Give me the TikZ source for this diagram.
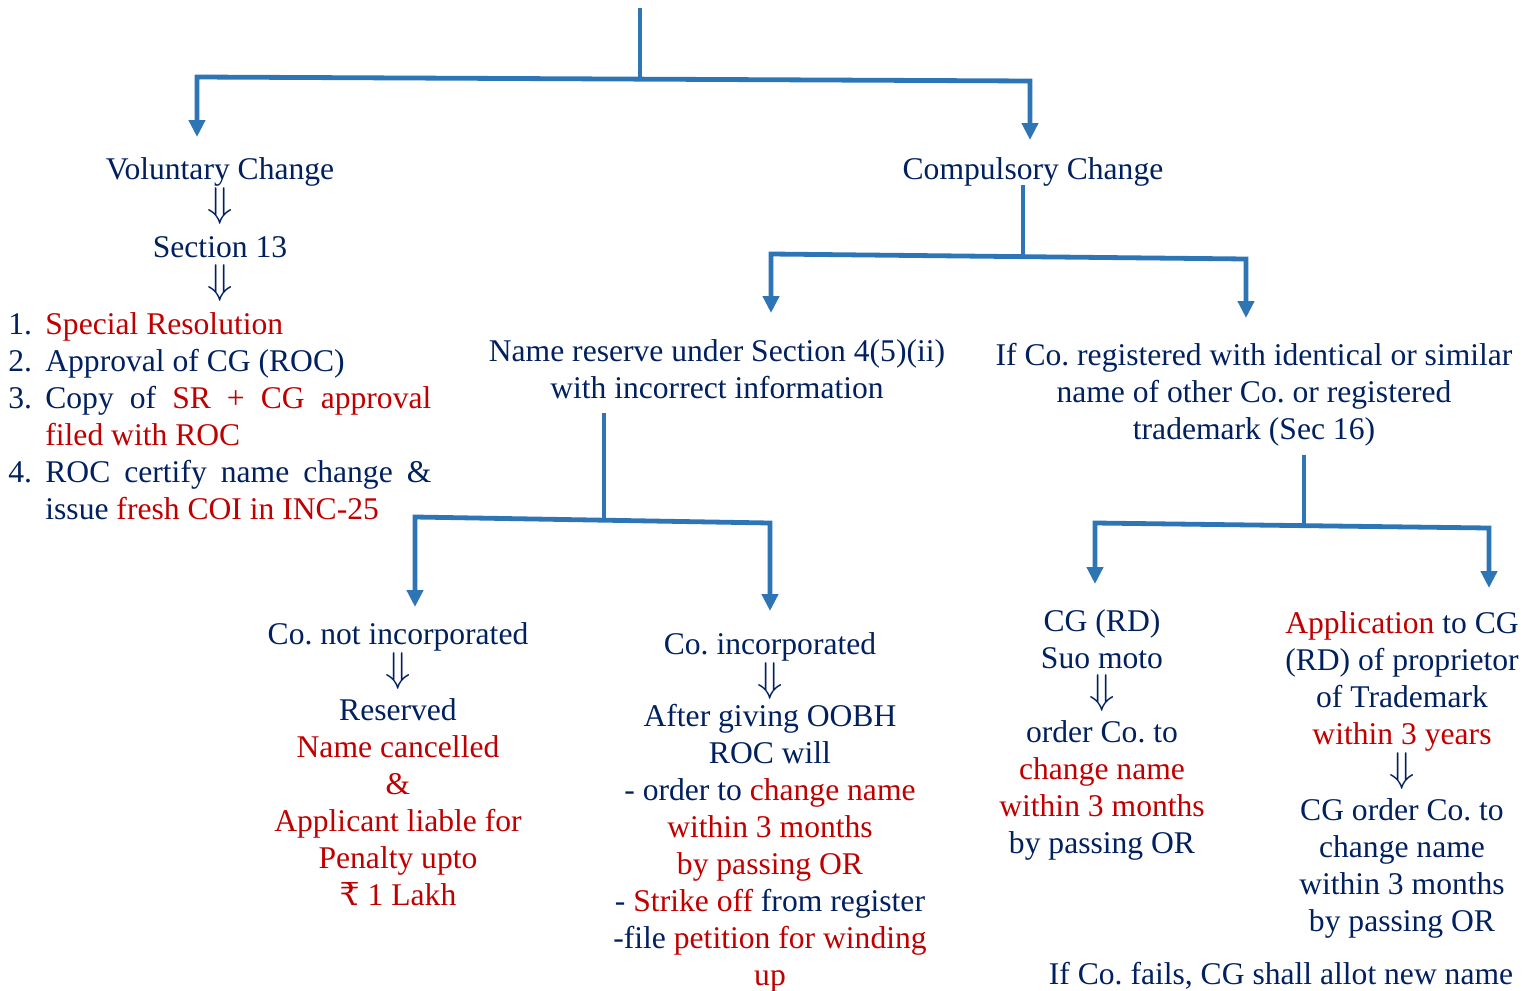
\documentclass[tikz,border=0pt]{standalone}
\usepackage{fontspec}
\setmainfont{Liberation Serif}
\newfontfamily\rupeefont{DejaVu Serif}
\usetikzlibrary{arrows.meta}
\definecolor{navy}{HTML}{002060}
\definecolor{accent}{HTML}{C00000}
\definecolor{branchblue}{HTML}{2E75B6}
\frenchspacing
\newcommand{\chfont}{\fontsize{15.8pt}{18.5pt}\selectfont}
\tikzset{chtext/.style={font=\chfont,text=navy,inner sep=0pt,align=center,yshift=-1.25pt}}
\tikzset{branch/.style={draw=branchblue,line width=2.4pt,line join=miter}}
\tikzset{branchtips/.style={{Triangle[width=8pt,length=8.5pt]}-{Triangle[width=8pt,length=8.5pt]}}}
\newcommand{\chnode}[4][]{\node[chtext,#1] at (#2) (#3) {#4}}
\newcommand{\rd}[1]{\textcolor{accent}{#1}}
\newcommand{\dnarrow}{{\fontsize{21pt}{21pt}\selectfont$\Downarrow$}}
\newcommand{\stepitem}[2]{\hangindent=18.5pt\hangafter=1\noindent\makebox[18.5pt][l]{#1}#2\par}

\begin{document}
\begin{tikzpicture}[x=0.5pt,y=-0.5pt]
	\useasboundingbox (0,0) rectangle (1527,991);
	% top level
	\chnode{220,169}{volchg}{Voluntary Change};
	\chnode{220,204}{voldn1}{\dnarrow};
	\chnode{220,245}{sec13}{Section 13};
	\chnode{220,281}{voldn2}{\dnarrow};
	\chnode[anchor=west,align=justify,text width=211.5pt]{8,414}{volsteps}{%
		\stepitem{1.}{\rd{Special Resolution}}
		\stepitem{2.}{Approval of CG (ROC)}
		\stepitem{3.}{Copy of \rd{SR + CG approval}\linebreak \rd{filed with ROC}}
		\stepitem{4.}{ROC certify name change \&\linebreak issue \rd{fresh COI in INC-25}}};
	\chnode{1033,169}{compchg}{Compulsory Change};
	% compulsory change
	\chnode{717,367}{nameres}{Name reserve under Section 4(5)(ii)\\with incorrect information};
	\chnode{1254,392}{tmark}{If Co. registered with identical or similar\\name of other Co. or registered\\trademark (Sec 16)};
	\chnode{398,634}{notinc}{Co. not incorporated};
	\chnode{398,669}{notdn}{\dnarrow};
	\chnode{398,800}{cancel}{Reserved\\\rd{Name cancelled}\\\rd{\&}\\\rd{Applicant liable for}\\\rd{Penalty upto}\\\rd{{\rupeefont ₹} 1 Lakh}};
	\chnode{770,644}{inc}{Co. incorporated};
	\chnode{770,679}{incdn}{\dnarrow};
	\chnode{770,845.5}{rocwill}{After giving OOBH\\ROC will\\- order to \rd{change name}\\\rd{within 3 months}\\\rd{by passing OR}\\- \rd{Strike off} from register\\-file \rd{petition for winding}\\\rd{up}};
	\chnode{1102,637}{suomoto}{CG (RD)\\Suo moto};
	\chnode{1102,691}{suodn}{\dnarrow};
	\chnode{1102,788}{suoorder}{order Co. to\\\rd{change name}\\\rd{within 3 months}\\by passing OR};
	\chnode{1402,679}{applic}{\rd{Application} to CG\\(RD) of proprietor\\of Trademark\\\rd{within 3 years}};
	\chnode{1402,769}{appdn}{\dnarrow};
	\chnode{1402,866}{cgorder}{CG order Co. to\\change name\\within 3 months\\by passing OR};
	\chnode{1281,973.5}{newname}{If Co. fails, CG shall allot new name};

	\coordinate (root) at (640,8);
	\coordinate (rootj) at (640,79);
	\coordinate (volL) at (197,77);
	\coordinate (compR) at (1030,81);
	\coordinate (volin) at (197,137);
	\coordinate (compin) at (1030,140);
	\coordinate (cstem) at (1023,185);
	\coordinate (cj) at (1023,256.5);
	\coordinate (nrL) at (771,254);
	\coordinate (trR) at (1246,259);
	\coordinate (nrin) at (771,313);
	\coordinate (trin) at (1246,318);
	\coordinate (nrstem) at (604,413);
	\coordinate (nrj) at (604,520);
	\coordinate (niL) at (415,517);
	\coordinate (inR) at (770,523);
	\coordinate (niin) at (415,607);
	\coordinate (inin) at (770,611);
	\coordinate (trstem) at (1304,455);
	\coordinate (trj) at (1304,525.5);
	\coordinate (sgL) at (1095,523);
	\coordinate (apR) at (1489,528);
	\coordinate (sgin) at (1095,584);
	\coordinate (apin) at (1489,588);

	\draw[branch]
	(root) -- (rootj)
	(cstem) -- (cj)
	(nrstem) -- (nrj)
	(trstem) -- (trj);
	\draw[branch,branchtips] (volin) -- (volL) -- (compR) -- (compin);
	\draw[branch,branchtips] (nrin) -- (nrL) -- (trR) -- (trin);
	\draw[branch,branchtips] (niin) -- (niL) -- (inR) -- (inin);
	\draw[branch,branchtips] (sgin) -- (sgL) -- (apR) -- (apin);
\end{tikzpicture}
\end{document}
